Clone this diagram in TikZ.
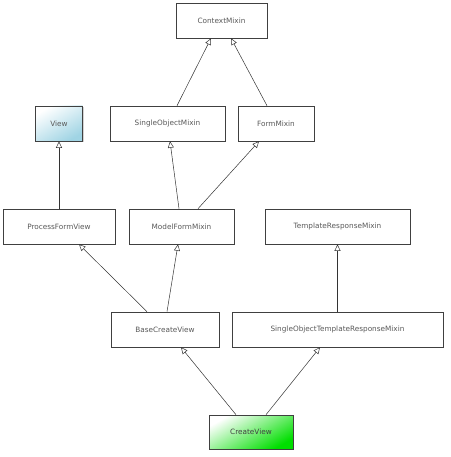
\documentclass[tikz,border=0pt]{standalone}
\usepackage{fontspec}
\setmainfont{DejaVu Sans}
\usetikzlibrary{arrows.meta,shadows}

\definecolor{viewblue}{RGB}{160,212,228}
\definecolor{creategreen}{RGB}{0,222,0}

\tikzset{
  classbox/.style={draw=black!75, fill=white, line width=0.6pt, minimum height=35pt,
    inner sep=0pt, font=\fontsize{7.3}{8}\selectfont, text=black!65,
    drop shadow={shadow xshift=1pt, shadow yshift=-1pt, opacity=0.35}},
  inherits/.style={draw=black!80, line width=0.5pt, -{Triangle[open, length=6.5pt, width=6pt]}}
}

\begin{document}
\begin{tikzpicture}[x=1pt, y=-1pt]
% fix page size
\useasboundingbox (0,0) rectangle (450,457);

% define class boxes
\node[classbox, minimum width=91pt] (context) at (221.5,20.5) {ContextMixin};
\node[classbox, minimum width=47pt, top color=white, bottom color=viewblue, shading angle=30] (view) at (59,123.5) {View};
\node[classbox, minimum width=115pt] (singleobj) at (167.5,123.5) {SingleObjectMixin};
\node[classbox, minimum width=76pt] (formmixin) at (276,123.5) {FormMixin};
\node[classbox, minimum width=112pt] (processform) at (59,226.5) {ProcessFormView};
\node[classbox, minimum width=105pt] (modelform) at (181.5,226.5) {ModelFormMixin};
\node[classbox, minimum width=145pt] (templresp) at (337.5,226.5) {TemplateResponseMixin};
\node[classbox, minimum width=108pt] (basecreate) at (165,329.5) {BaseCreateView};
\node[classbox, minimum width=211pt] (sotemplresp) at (337.5,329.5) {SingleObjectTemplateResponseMixin};
\node[classbox, minimum width=84pt, minimum height=34pt, top color=white, bottom color=creategreen, shading angle=30, text=black!75] (createview) at (251,432) {CreateView};

% draw inheritance arrows
\draw[inherits] ([xshift=9.5pt]singleobj.north) -- ([xshift=-10.5pt]context.south);
\draw[inherits] ([xshift=-9pt]formmixin.north) -- ([xshift=9.5pt]context.south);
\draw[inherits] (processform.north) -- (view.south);
\draw[inherits] ([xshift=-2.5pt]modelform.north) -- ([xshift=2.5pt]singleobj.south);
\draw[inherits] ([xshift=16.5pt]modelform.north) -- ([xshift=-17pt]formmixin.south);
\draw[inherits] ([xshift=-18pt]basecreate.north) -- ([xshift=20pt]processform.south);
\draw[inherits] ([xshift=2pt]basecreate.north) -- ([xshift=-3.5pt]modelform.south);
\draw[inherits] (sotemplresp.north) -- (templresp.south);
\draw[inherits] ([xshift=-15pt]createview.north) -- ([xshift=16pt]basecreate.south);
\draw[inherits] ([xshift=15pt]createview.north) -- ([xshift=-17.5pt]sotemplresp.south);

\end{tikzpicture}
\end{document}
